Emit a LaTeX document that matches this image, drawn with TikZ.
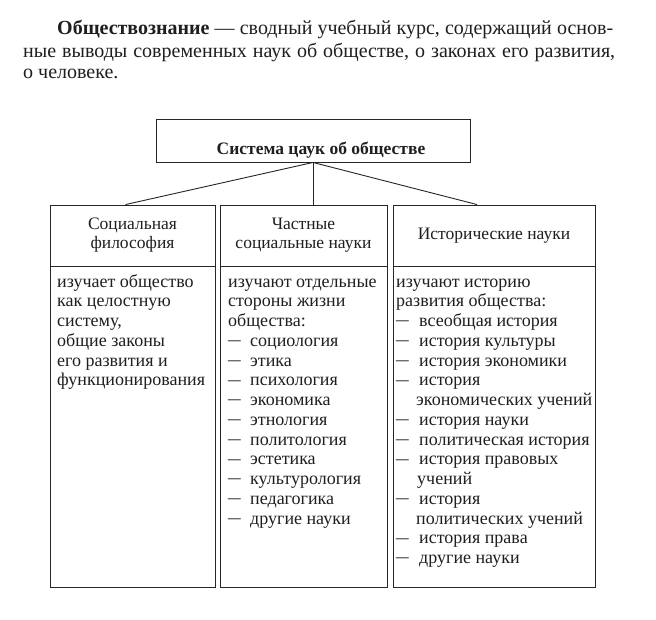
\documentclass[tikz,border=0pt]{standalone}
\usepackage{graphicx}
\usepackage{fontspec}
\setmainfont{Liberation Serif}
\newcommand\mdsh[1]{\makebox[#1][l]{\raisebox{0.6pt}{\scalebox{1.4}[1]{–}}}}
\begin{document}
\begin{tikzpicture}[x=1pt,y=-1pt,
  box/.style={draw=black!85, line width=0.9pt, inner sep=0pt},
  para/.style={anchor=base west, inner sep=0pt, text=black!88, font=\fontsize{20}{22}\selectfont},
  head/.style={box, align=center, text=black!88, font=\fontsize{17.5}{19}\selectfont},
  body/.style={anchor=base west, inner sep=0pt, text=black!88, font=\fontsize{18}{19.75}\selectfont},
  link/.style={draw=black!85, line width=0.9pt}]
\useasboundingbox (0,0) rectangle (656,619);
\fill[white] (0,0) rectangle (656,619);

% paragraph
\node[para] (p1) at (57,34) {\makebox[556pt][s]{\textbf{Обществознание} — сводный учебный курс, содержащий основ-}};
\node[para] (p2) at (23,57) {\makebox[592pt][s]{ные выводы современных наук об обществе, о законах его развития,}};
\node[para] (p3) at (23,78) {о человеке.};

% top box
\node[box, minimum width=314pt, minimum height=43pt] (top) at (313,140.5) {};
\node[anchor=base, inner sep=0pt, text=black!88, font=\bfseries\fontsize{17.5}{19}\selectfont] (toptxt) at (321,154) {Система цаук об обществе};

% headers
\node[head, minimum width=165pt, minimum height=61pt] (h1) at (132.5,235.5) {Социальная\\философия};
\node[head, minimum width=167pt, minimum height=61pt] (h2) at (303.5,235.5) {Частные\\социальные науки};
\node[head, minimum width=202pt, minimum height=61pt] (h3) at (494,235.5) {Исторические науки};

% bodies
\node[box, minimum width=165pt, minimum height=321pt] (b1) at (132.5,426.5) {};
\node[box, minimum width=167pt, minimum height=321pt] (b2) at (303.5,426.5) {};
\node[box, minimum width=202pt, minimum height=321pt] (b3) at (494,426.5) {};

% connectors
\draw[link] (top.south) -- ([xshift=-7pt]h1.north);
\draw[link] (top.south) -- (top.south |- h2.north);
\draw[link] (top.south) -- ([xshift=-17pt]h3.north);

% body texts
\node[body] (t1) at (57,287) {\parbox[t]{165pt}{\raggedright изучает общество\\как целостную\\систему,\\общие законы\\его развития и\\функционирования}};
\node[body] (t2) at (228,287) {\parbox[t]{165pt}{\raggedright изучают отдельные\\стороны жизни\\общества:\\
\mdsh{22pt}социология\\
\mdsh{22pt}этика\\
\mdsh{22pt}психология\\
\mdsh{22pt}экономика\\
\mdsh{22pt}этнология\\
\mdsh{22pt}политология\\
\mdsh{22pt}эстетика\\
\mdsh{22pt}культурология\\
\mdsh{22pt}педагогика\\
\mdsh{22pt}другие науки}};
\node[body] (t3) at (396,287) {\parbox[t]{210pt}{\raggedright изучают историю\\развития общества:\\
\mdsh{23pt}всеобщая история\\
\mdsh{23pt}история культуры\\
\mdsh{23pt}история экономики\\
\mdsh{23pt}история\\
\hspace*{20pt}экономических учений\\
\mdsh{23pt}история науки\\
\mdsh{23pt}политическая история\\
\mdsh{23pt}история правовых\\
\hspace*{21pt}учений\\
\mdsh{23pt}история\\
\hspace*{20pt}политических учений\\
\mdsh{23pt}история права\\
\mdsh{23pt}другие науки}};
\end{tikzpicture}
\end{document}
